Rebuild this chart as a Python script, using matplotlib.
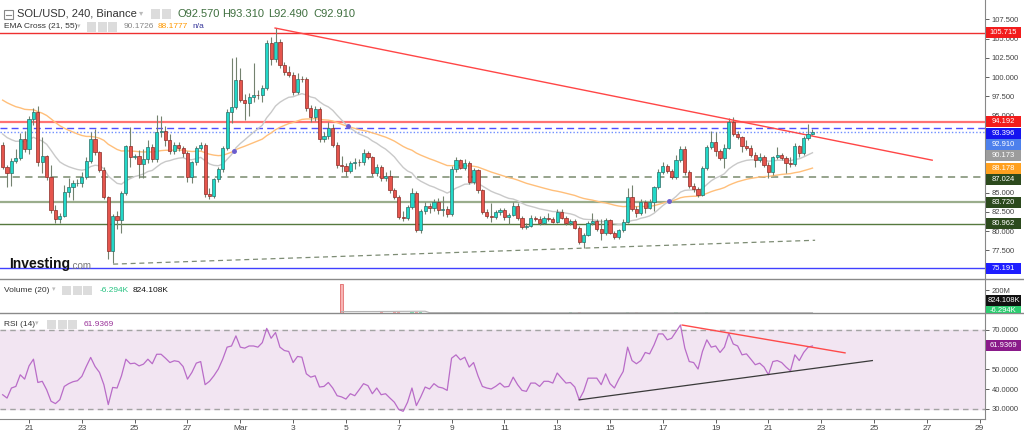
import numpy as np
import matplotlib
matplotlib.use("Agg")
import matplotlib.pyplot as plt
import matplotlib.transforms as mtransforms
from matplotlib.lines import Line2D
from matplotlib.patches import Rectangle

plt.rcParams['font.family'] = ['Liberation Sans', 'DejaVu Sans']

# ---- 4h candles, SOL/USD (Feb 20 -> Mar 22) ----
opens = [
    91.2, 88.3, 87.5, 89.1, 89.5, 92.0, 90.6, 94.5, 95.5, 89.0,
    89.7, 87.0, 82.7, 81.5, 82.0, 85.1, 85.7, 86.2, 86.3, 87.0,
    89.1, 92.0, 90.2, 87.9, 84.4, 77.4, 82.0, 81.4, 85.0, 91.0,
    89.6, 89.7, 88.7, 89.3, 90.9, 89.3, 92.8, 93.0, 91.8, 90.4,
    91.2, 90.8, 90.1, 87.0, 88.9, 90.8, 91.2, 84.8, 84.5, 86.7,
    88.0, 90.8, 95.4, 96.1, 99.6, 97.0, 96.6, 97.4, 97.7, 97.6,
    98.6, 104.4, 102.3, 104.5, 101.6, 100.6, 100.3, 98.1, 99.8, 99.7,
    96.0, 94.8, 95.9, 92.0, 92.4, 93.4, 91.2, 88.6, 88.4, 87.8,
    88.8, 89.0, 88.9, 90.1, 89.6, 87.5, 88.3, 86.9, 87.2, 85.3,
    84.4, 81.8, 81.7, 83.1, 84.9, 80.1, 82.6, 83.3, 83.0, 83.8,
    82.7, 82.9, 82.2, 88.0, 89.2, 88.2, 88.8, 86.4, 87.9, 85.3,
    82.5, 82.0, 81.8, 82.5, 82.7, 81.8, 82.1, 83.3, 81.7, 80.5,
    80.7, 81.7, 81.6, 81.1, 81.7, 81.5, 81.2, 82.5, 81.7, 81.1,
    81.3, 80.4, 78.6, 79.5, 81.0, 81.3, 80.2, 79.8, 81.4, 79.8,
    79.2, 80.1, 81.2, 84.4, 82.9, 82.3, 83.8, 83.0, 83.8, 85.7,
    87.7, 88.4, 87.8, 87.0, 89.2, 90.7, 87.6, 85.8, 85.4, 84.7,
    88.2, 90.9, 91.5, 90.4, 89.5, 90.8, 94.2, 92.6, 92.2, 91.0,
    90.8, 89.9, 89.2, 89.6, 88.6, 87.6, 89.6, 89.9, 89.5, 88.8,
    88.7, 91.0, 90.1, 92.1, 92.57,
]
highs = [
    91.6, 88.6, 89.5, 90.6, 92.7, 93.0, 94.9, 96.0, 96.2, 92.2,
    89.9, 88.6, 83.4, 82.4, 86.0, 86.9, 86.6, 86.8, 87.6, 89.6,
    92.8, 93.2, 90.4, 88.3, 84.6, 82.2, 82.6, 85.2, 91.2, 93.5,
    90.0, 90.5, 90.6, 91.8, 91.3, 95.1, 94.9, 93.6, 92.6, 91.6,
    91.5, 91.0, 90.4, 89.1, 91.0, 91.5, 91.4, 85.6, 86.9, 88.3,
    91.0, 95.9, 102.5, 102.6, 101.2, 97.8, 97.9, 101.8, 98.3, 99.0,
    104.8, 105.2, 106.3, 104.9, 102.0, 101.4, 100.7, 100.5, 100.1, 100.0,
    96.4, 96.2, 96.1, 92.9, 94.1, 93.9, 91.5, 89.8, 88.8, 89.1,
    89.5, 89.4, 90.7, 90.4, 89.8, 88.7, 88.6, 87.6, 87.9, 85.6,
    84.7, 82.6, 83.4, 85.6, 85.2, 82.9, 83.8, 83.7, 84.2, 84.3,
    84.6, 83.2, 88.4, 89.6, 89.4, 89.3, 89.1, 88.2, 88.1, 85.5,
    82.8, 83.6, 82.7, 83.0, 83.0, 82.4, 83.8, 83.6, 81.9, 81.0,
    82.1, 82.0, 81.9, 82.0, 82.3, 81.8, 82.9, 82.8, 81.9, 81.6,
    81.5, 80.6, 79.8, 81.3, 82.3, 81.6, 81.5, 81.7, 81.6, 80.0,
    80.3, 81.5, 85.6, 86.0, 83.2, 84.2, 84.0, 84.1, 85.9, 88.0,
    88.9, 88.7, 88.1, 89.9, 91.0, 91.1, 87.9, 86.2, 85.7, 88.5,
    91.2, 93.0, 92.8, 90.7, 91.3, 94.7, 94.8, 93.0, 92.4, 91.8,
    91.2, 90.3, 90.1, 89.9, 88.9, 89.8, 90.9, 90.1, 89.8, 89.6,
    91.4, 91.2, 92.4, 93.9, 93.31,
]
lows = [
    88.0, 85.7, 85.9, 88.8, 89.2, 90.3, 90.0, 93.8, 88.5, 87.5,
    86.6, 82.4, 81.0, 81.0, 81.8, 84.4, 84.0, 85.8, 85.7, 86.8,
    88.8, 89.9, 87.6, 84.2, 76.4, 75.8, 80.2, 79.7, 84.7, 88.3,
    89.3, 86.9, 86.9, 88.8, 88.9, 89.0, 92.2, 91.0, 90.0, 90.0,
    90.4, 89.6, 86.4, 86.3, 88.6, 90.5, 84.4, 84.2, 84.3, 86.4,
    87.7, 90.5, 94.0, 95.8, 96.7, 94.4, 95.0, 96.8, 97.2, 96.8,
    98.3, 101.6, 101.9, 101.2, 100.2, 100.0, 97.7, 97.8, 99.4, 95.6,
    94.2, 94.3, 91.5, 91.5, 91.9, 90.9, 88.2, 87.6, 87.2, 87.5,
    88.0, 88.4, 88.6, 89.3, 87.2, 87.2, 86.5, 86.5, 85.0, 84.1,
    81.5, 81.3, 81.4, 82.9, 79.9, 79.8, 82.2, 82.4, 82.6, 82.2,
    81.9, 81.8, 81.9, 87.7, 88.0, 87.9, 86.1, 86.1, 85.0, 82.2,
    81.7, 81.2, 81.5, 82.1, 81.4, 80.9, 81.9, 81.4, 80.2, 80.2,
    80.5, 81.3, 80.8, 80.9, 81.3, 81.0, 81.0, 81.5, 80.8, 80.8,
    80.2, 78.3, 77.8, 79.3, 80.8, 80.0, 78.8, 79.5, 79.6, 78.9,
    79.0, 79.9, 81.0, 82.6, 81.8, 82.1, 82.4, 82.8, 82.6, 85.5,
    87.4, 87.5, 86.7, 86.8, 88.9, 87.3, 85.6, 85.1, 84.4, 84.5,
    87.9, 90.6, 89.8, 89.2, 88.2, 90.6, 92.3, 91.9, 90.3, 90.5,
    89.6, 88.3, 88.9, 88.3, 86.9, 87.3, 89.3, 89.2, 87.5, 88.3,
    88.5, 89.6, 89.9, 91.8, 92.49,
]
closes = [
    88.3, 87.5, 89.1, 89.5, 92.0, 90.6, 94.5, 95.5, 89.0, 89.7,
    87.0, 82.7, 81.5, 82.0, 85.1, 85.7, 86.2, 86.3, 87.0, 89.1,
    92.0, 90.2, 87.9, 84.4, 77.4, 82.0, 81.4, 85.0, 91.0, 89.6,
    89.7, 88.7, 89.3, 90.9, 89.3, 92.8, 93.0, 91.8, 90.4, 91.2,
    90.8, 90.1, 87.0, 88.9, 90.8, 91.2, 84.8, 84.5, 86.7, 88.0,
    90.8, 95.4, 96.1, 99.6, 97.0, 96.6, 97.4, 97.7, 97.6, 98.6,
    104.4, 102.3, 104.5, 101.6, 100.6, 100.3, 98.1, 99.8, 99.7, 96.0,
    94.8, 95.9, 92.0, 92.4, 93.4, 91.2, 88.6, 88.4, 87.8, 88.8,
    89.0, 88.9, 90.1, 89.6, 87.5, 88.3, 86.9, 87.2, 85.3, 84.4,
    81.8, 81.7, 83.1, 84.9, 80.1, 82.6, 83.3, 83.0, 83.8, 82.7,
    82.9, 82.2, 88.0, 89.2, 88.2, 88.8, 86.4, 87.9, 85.3, 82.5,
    82.0, 81.8, 82.5, 82.7, 81.8, 82.1, 83.3, 81.7, 80.5, 80.7,
    81.7, 81.6, 81.1, 81.7, 81.5, 81.2, 82.5, 81.7, 81.1, 81.3,
    80.4, 78.6, 79.5, 81.0, 81.3, 80.2, 79.8, 81.4, 79.8, 79.2,
    80.1, 81.2, 84.4, 82.9, 82.3, 83.8, 83.0, 83.8, 85.7, 87.7,
    88.4, 87.8, 87.0, 89.2, 90.7, 87.6, 85.8, 85.4, 84.7, 88.2,
    90.9, 91.5, 90.4, 89.5, 90.8, 94.2, 92.6, 92.2, 91.0, 90.8,
    89.9, 89.2, 89.6, 88.6, 87.6, 89.6, 89.9, 89.5, 88.8, 88.7,
    91.0, 90.1, 92.1, 92.57, 92.91,
]

# volume in millions (nothing drawn before the spike)
volumes = [0.0] * 77 + [
    250, 2, 1.5, 1.5, 1, 2, 1.5, 1, 1.5, 5,
    2, 2, 8, 7, 3, 2, 6, 5, 6, 1.5,
    1, 2, 1.5, 1, 2, 7, 6, 4, 2, 2,
    1.5, 2, 2.5, 2, 4, 1.5, 1, 1.5, 2, 1.5,
    2, 1, 1.5, 1, 1.5, 1, 1, 1.5, 2, 1.5,
    1, 1.5, 5, 3, 10, 3, 2, 1.5, 1.5, 4,
    2, 1.5, 2, 1.5, 2, 6, 3, 5, 2, 1.5,
    1.5, 2, 2.5, 2, 1.5, 1.5, 5, 2.5, 3, 2,
    1.5, 2, 3, 6, 2, 1.5, 1.5, 2, 4, 2,
    1.5, 1.5, 1, 1.5, 1, 1.5, 1, 2, 1.5, 1,
    1, 1.5, 1, 2, 1.5, 1.5, 2, 0.82,
]

rsi_values = [
    37.2, 35.5, 40.6, 41.4, 47.3, 45.1, 51.8, 55.2, 43.4, 44.0,
    39.7, 33.9, 32.7, 34.7, 41.4, 42.8, 43.8, 44.3, 46.5, 51.5,
    56.1, 51.5, 48.5, 42.3, 32.2, 40.9, 40.6, 46.8, 55.2, 52.9,
    53.2, 51.8, 52.7, 55.2, 52.9, 57.7, 57.7, 55.7, 53.5, 54.4,
    54.0, 51.5, 45.1, 48.5, 53.2, 54.0, 42.3, 44.0, 46.8, 50.2,
    55.2, 61.3, 61.9, 67.0, 61.3, 60.8, 61.9, 61.9, 61.3, 63.6,
    70.8, 65.8, 68.7, 61.3, 59.6, 59.1, 53.5, 56.6, 56.2, 47.8,
    46.1, 46.8, 41.1, 41.4, 43.4, 40.6, 36.7, 36.1, 35.0, 37.7,
    36.7, 39.7, 42.8, 41.8, 37.7, 40.6, 37.2, 37.7, 35.5, 33.4,
    29.7, 28.8, 33.4, 40.6, 31.7, 36.1, 41.1, 40.1, 42.8, 41.1,
    40.6, 39.4, 55.7, 57.4, 54.9, 56.2, 51.2, 53.5, 46.8, 41.4,
    40.6, 40.1, 41.4, 43.1, 41.1, 41.4,
    46.1, 42.3, 39.4, 38.9, 43.1, 43.1, 41.4, 44.0, 44.0, 43.1,
    48.2, 45.6, 43.1, 43.4, 41.1, 34.7, 38.9, 45.6, 45.6, 45.6,
    42.3, 47.8, 42.8, 40.6, 45.1, 49.0, 61.3, 54.5, 52.9, 54.5,
    58.6, 57.9, 62.4, 68.0, 68.0, 65.0, 65.8, 69.2, 72.5, 60.8,
    54.0, 53.5, 50.2, 59.1, 65.0, 61.3, 61.9, 58.6, 61.3, 68.3,
    62.9, 61.9, 57.4, 57.9, 55.2, 52.4, 53.2, 51.2, 47.3, 54.0,
    54.5, 53.5, 51.2, 49.3, 57.4, 54.5, 58.6, 61.3, 61.9,
]

# EMA seeds at the left edge of the chart
ema21_seed = 92.6
ema55_seed = 97.0

# horizontal levels: price, colour, style, width
levels = [
    (105.715, '#ee3030', '-', 1.0),
    (94.192, '#ff7272', '-', 1.6),
    (93.396, '#4f4fff', (0, (5, 3)), 1.0),
    (92.910, '#6f8fff', (0, (1, 1.5)), 1.0),
    (87.024, '#8e9c84', (0, (4, 3)), 1.3),
    (83.720, '#9aad8c', '-', 1.6),
    (80.962, '#56793f', '-', 1.0),
    (75.191, '#4040ff', '-', 1.0),
]
# price tags on the right axis
price_tags = [
    ('105.715', 105.715, '#f21c1c'),
    ('94.192', 94.192, '#f21c1c'),
    ('93.396', 93.396, '#1414f0'),
    ('92.910', 92.910, '#4d80ec'),
    ('90.173', 90.173, '#9c9c9c'),
    ('88.178', 88.178, '#ffa01f'),
    ('87.024', 87.024, '#2c4a1d'),
    ('83.720', 83.720, '#2c4a1d'),
    ('80.962', 80.962, '#2c4a1d'),
    ('75.191', 75.191, '#1e1eff'),
]

# drawn trendlines: (x0, y0, x1, y1) in candle index / value
resistance_line = (61.9, 106.36, 211.2, 89.2)
support_line = (25.1, 75.7, 184.6, 78.8)
rsi_down_line = (154.4, 72.5, 191.4, 58.4)
rsi_up_line = (131.0, 34.6, 197.6, 54.5)

date_labels = ['21', '23', '25', '27', 'Mar', '3', '5', '7', '9', '11', '13',
               '15', '17', '19', '21', '23', '25', '27', '29']

W, H = 1024, 432
fig = plt.figure(figsize=(W / 100, H / 100), dpi=100)
fig.patch.set_facecolor('white')


def rect(x0, y0, x1, y1):
    return [x0 / W, 1 - y1 / H, (x1 - x0) / W, (y1 - y0) / H]


ax = fig.add_axes(rect(0, 0, 985, 279))
axv = fig.add_axes(rect(0, 279, 985, 313), sharex=ax)
axr = fig.add_axes(rect(0, 313, 985, 419), sharex=ax)

x = np.arange(len(closes))
o = np.array(opens)
hi = np.array(highs)
lo = np.array(lows)
c = np.array(closes)
up = c >= o

YTOP, YBOT = 110.0, 73.77
ax.set_xlim(-0.6, 223.2)
ax.set_ylim(YBOT, YTOP)

# levels
for price, col, ls, lw in levels:
    ax.axhline(price, color=col, linestyle=ls, linewidth=lw, zorder=1)

# trendlines
x0, y0, x1, y1 = resistance_line
ax.plot([x0, x1], [y0, y1], color='#ff4646', lw=1.0, zorder=4)
x0, y0, x1, y1 = support_line
ax.plot([x0, x1], [y0, y1], color='#7d8c74', lw=0.9, dashes=(4, 3), zorder=1)


def ema(values, period, seed):
    k = 2.0 / (period + 1)
    out = [seed]
    for v in values[1:]:
        out.append(out[-1] + k * (v - out[-1]))
    return np.array(out)


e21 = ema(closes, 21, ema21_seed)
e55 = ema(closes, 55, ema55_seed)
ax.plot(x, e55, color='#ffbf7a', lw=1.0, zorder=2)
ax.plot(x, e21, color='#c9c9c9', lw=1.0, zorder=2)
diff = e21 - e55
cross = np.where(np.sign(diff[1:]) != np.sign(diff[:-1]))[0]
for i in cross:
    ax.plot(i + 0.5, (e21[i] + e21[i + 1]) / 2, marker='o', ms=2.5,
            color='#6a5ccf', zorder=5)

# candles
ax.vlines(x, lo, hi, color='#74826f', lw=0.8, zorder=3)
body_lo = np.minimum(o, c)
body_h = np.maximum(np.abs(c - o), 0.07)
ax.bar(x[up], body_h[up], bottom=body_lo[up], width=0.72, color='#22d8c8',
       edgecolor='#2d6d67', linewidth=0.5, zorder=4)
ax.bar(x[~up], body_h[~up], bottom=body_lo[~up], width=0.72, color='#e5554d',
       edgecolor='#8c2b26', linewidth=0.5, zorder=4)

# right axis (labels hidden behind tags in the original are left blank)
hidden_main = (75.0, 87.5, 90.0, 92.5)
ax.yaxis.tick_right()
yt = np.arange(75.0, 109.0, 2.5)
ax.set_yticks(yt)
ax.set_yticklabels(['' if v in hidden_main else '%.3f' % v for v in yt])
for a in (ax, axv, axr):
    a.tick_params(axis='y', labelsize=5.5, colors='#444', length=3, pad=2,
                  width=0.6)
    for s in ('left', 'top', 'bottom'):
        a.spines[s].set_visible(False)
    a.spines['right'].set_color('#888')
    a.tick_params(axis='x', bottom=False, labelbottom=False)


def tag(ypx, label, col, clip_bottom=None):
    r = Rectangle((986 / W, 1 - (ypx + 5.5) / H), 35 / W, 11 / H,
                  transform=fig.transFigure, fc=col, ec='none', zorder=10)
    fig.add_artist(r)
    t = fig.text(1003.5 / W, 1 - ypx / H, label, ha='center', va='center',
                 fontsize=5.5, color='white', zorder=11)
    if clip_bottom is not None:
        box = mtransforms.Bbox.from_extents(980, H - clip_bottom, W, H)
        r.set_clip_box(box)
        t.set_clip_box(box)
        t.set_clip_on(True)


# price tags, stacked so they don't overlap
px_per_unit = 279 / (YTOP - YBOT)
last_px = -100
for label, price, col in price_tags:
    ypx = (YTOP - price) * px_per_unit
    ypx = max(ypx, last_px + 11.3)
    last_px = ypx
    tag(ypx, label, col)

# volume pane
vol = np.array(volumes)
vcol = np.where(up, '#86e0b4', '#f6a9a9')
axv.bar(x, vol, width=0.72, color=vcol, linewidth=0, zorder=2)
axv.bar([77], [vol[77]], width=0.72, color='#f8b4b4', edgecolor='#e27070',
        linewidth=0.6, zorder=3)
vol_ma = np.convolve(vol, np.ones(20) / 20, mode='full')[:len(vol)]
axv.plot(x[77:], vol_ma[77:], color='#b5b5b5', lw=0.8, zorder=3)
axv.set_ylim(0, 296)
axv.yaxis.tick_right()
axv.set_yticks([200])
axv.set_yticklabels(['200M'])
tag(300.5, '824.108K', '#111111')
tag(311, '-6.294K', '#2ecc71', clip_bottom=312.5)

# RSI pane
RTOP, RBOT = 78.6, 24.9
axr.axhspan(30, 70, color='#f2e5f2', zorder=0)
for lvl in (30, 70):
    axr.axhline(lvl, color='#a3a3a3', lw=1.0, dashes=(4, 3), zorder=1)
axr.plot(x, rsi_values, color='#b96cc8', lw=0.9, zorder=3)
x0, y0, x1, y1 = rsi_down_line
axr.plot([x0, x1], [y0, y1], color='#ff4a4a', lw=1.0, zorder=4)
x0, y0, x1, y1 = rsi_up_line
axr.plot([x0, x1], [y0, y1], color='#3a3a3a', lw=0.9, zorder=4)
axr.set_ylim(RBOT, RTOP)
axr.yaxis.tick_right()
axr.set_yticks([30, 40, 50, 60, 70])
axr.set_yticklabels(['' if v == 60 else '%.4f' % v for v in (30, 40, 50, 60, 70)])
axr.spines['bottom'].set_visible(True)
axr.spines['bottom'].set_color('#888')
tag(313 + (RTOP - rsi_values[-1]) * 106 / (RTOP - RBOT), '61.9369', '#8a1a8a')
axr.set_xticks([6 + 12 * k for k in range(len(date_labels))])
axr.set_xticklabels(date_labels)
axr.tick_params(axis='x', bottom=True, labelbottom=True, labelsize=6,
                colors='#444', length=3, pad=1, width=0.6)

# pane separators across full width
for ypx in (279, 313):
    fig.add_artist(Line2D([0, 1], [1 - ypx / H] * 2, color='#8a8a8a', lw=1.0,
                          transform=fig.transFigure))


def ftext(xp, yp, s, **kw):
    fig.text(xp / W, 1 - yp / H, s, va='center', ha='left', **kw)


def icons(xp, yp, n):
    for k in range(n):
        fig.add_artist(Rectangle(((xp + k * 10.5) / W, 1 - (yp + 4.5) / H),
                                 9 / W, 9 / H, transform=fig.transFigure,
                                 fc='#dcdcdc', ec='none'))


# header rows
fig.add_artist(Rectangle((4 / W, 1 - 19 / H), 9 / W, 9 / H, transform=fig.transFigure,
                         fc='none', ec='#888', lw=0.8))
fig.add_artist(Line2D([6 / W, 11 / W], [1 - 14.5 / H] * 2, color='#888', lw=0.8,
                      transform=fig.transFigure))
ftext(17, 14, 'SOL/USD, 240, Binance', fontsize=8, color='#333')
ftext(139, 14, '\u25be', fontsize=6, color='#bbb')
icons(151, 14, 2)
for xp, s in ((178, 'O92.570'), (222, 'H93.310'), (268, 'L92.490'), (313, 'C92.910')):
    ftext(xp, 14, s, fontsize=8, color='#3f6f3f')

ftext(4, 27, 'EMA Cross (21, 55)', fontsize=6, color='#333')
ftext(77, 27, '\u25be', fontsize=5, color='#bbb')
icons(87, 27, 3)
ftext(124, 27, '90.1726', fontsize=6, color='#888')
ftext(158, 27, '88.1777', fontsize=6, color='#ff9900')
ftext(192, 27, 'n/a', fontsize=6, color='#333399')

ftext(4, 290, 'Volume (20)', fontsize=6, color='#333')
ftext(52, 290, '\u25be', fontsize=5, color='#bbb')
icons(62, 290, 3)
ftext(100, 290, '-6.294K', fontsize=6, color='#26c281')
ftext(133, 290, '824.108K', fontsize=6, color='#111')

ftext(4, 324, 'RSI (14)', fontsize=6, color='#333')
ftext(35, 324, '\u25be', fontsize=5, color='#bbb')
icons(47, 324, 3)
ftext(84, 324, '61.9369', fontsize=6, color='#993399')

# watermark logo
ftext(9, 264, 'Investing', fontsize=10, fontweight='bold', color='#111')
ftext(70, 266, '.com', fontsize=7, color='#777')

fig.savefig('out.png', dpi=100, facecolor='white')
